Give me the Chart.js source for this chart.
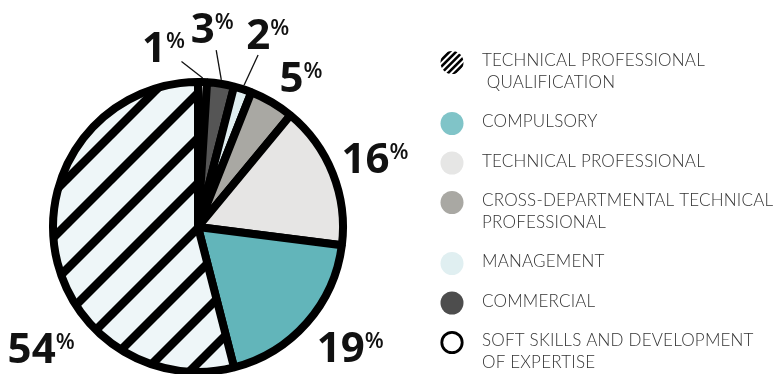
<!DOCTYPE html>
<html>
<head>
<meta charset="utf-8">
<script src="https://cdn.jsdelivr.net/npm/chart.js@4.4.1/dist/chart.umd.min.js"></script>
<style>
  html, body { margin: 0; padding: 0; background: #ffffff; overflow: hidden; }
  #wrap { width: 774px; height: 374px; overflow: hidden; position: relative; }
  canvas { display: block; }
</style>
</head>
<body>
<div id="wrap"><canvas id="chart" width="774" height="376"></canvas></div>
<script>
// Training hours by course type (legend order)
const categories = [
  ['TECHNICAL PROFESSIONAL', ' QUALIFICATION'],
  ['COMPULSORY'],
  ['TECHNICAL PROFESSIONAL'],
  ['CROSS-DEPARTMENTAL TECHNICAL', 'PROFESSIONAL'],
  ['MANAGEMENT'],
  ['COMMERCIAL'],
  ['SOFT SKILLS AND DEVELOPMENT', 'OF EXPERTISE']
];
const shares = [54, 19, 16, 5, 2, 3, 1];

// Slice colours (legend order); the first slice gets a hatch pattern
const sliceColors = ['hatch', '#62b5ba', '#e6e5e4', '#a9a8a3', '#e0eef0', '#555555', '#ffffff'];
const legendColors = ['hatch', '#80c4c8', '#e6e6e5', '#a9a8a3', '#e0eff1', '#4d4d4d', '#ffffff'];

// Percentage label placement: [angle clockwise from 12 o'clock (deg), distance from centre (px)]
const labelPlacement = [[232.4, 198], [128.3, 194], [68.7, 190], [34.5, 182], [19.9, 205], [4.1, 200], [-10.9, 183]];
const withLeader = [false, false, false, false, true, true, true];

function makeHatch() {
  const s = 45;
  const tile = document.createElement('canvas');
  tile.width = s; tile.height = s;
  const c = tile.getContext('2d');
  c.fillStyle = '#eef6f8';
  c.fillRect(0, 0, s, s);
  c.strokeStyle = '#000';
  c.lineWidth = 8.5;
  c.beginPath();
  for (let k = -1; k <= 1; k++) {
    c.moveTo(k * s - 5, s + 5);
    c.lineTo(k * s + s + 5, -5);
  }
  c.stroke();
  const p = document.getElementById('chart').getContext('2d').createPattern(tile, 'repeat');
  p.setTransform(new DOMMatrix().translate(21, 0));
  return p;
}
const hatch = makeHatch();

// The pie runs clockwise from the top in the reverse of legend order
const n = shares.length;
const pieIdx = [...Array(n).keys()].reverse();
const pieValues = pieIdx.map(i => shares[i]);
const pieColors = pieIdx.map(i => sliceColors[i] === 'hatch' ? hatch : sliceColors[i]);

const deg = Math.PI / 180;

const pieLabels = {
  id: 'pieLabels',
  afterDatasetsDraw(chart) {
    const ctx = chart.ctx;
    const arcs = chart.getDatasetMeta(0).data;
    arcs.forEach((arc, j) => {
      const i = pieIdx[j];
      const [a, d] = labelPlacement[i];
      const ang = a * deg - Math.PI / 2;
      const cx = arc.x + d * Math.cos(ang);
      const cy = arc.y + d * Math.sin(ang);
      const num = String(chart.data.datasets[0].data[j]);
      ctx.save();
      ctx.fillStyle = '#111111';
      ctx.font = 'bold 42px "Open Sans"';
      const wNum = ctx.measureText(num).width;
      ctx.font = '600 22px "Open Sans"';
      const wPct = ctx.measureText('%').width;
      const left = cx - (wNum + wPct) / 2;
      const base = cy + 15;
      ctx.textBaseline = 'alphabetic';
      ctx.font = 'bold 42px "Open Sans"';
      ctx.fillText(num, left, base);
      ctx.font = '600 22px "Open Sans"';
      ctx.fillText('%', left + wNum, base - 14);
      if (withLeader[i]) {
        const mid = (arc.startAngle + arc.endAngle) / 2;
        const rx = arc.x + (arc.outerRadius + 4) * Math.cos(mid);
        const ry = arc.y + (arc.outerRadius + 4) * Math.sin(mid);
        const dx = rx - cx, dy = ry - cy;
        const len = Math.hypot(dx, dy);
        ctx.strokeStyle = '#111111';
        ctx.lineWidth = 1.3;
        ctx.beginPath();
        ctx.moveTo(cx + dx / len * 23, cy + dy / len * 23);
        ctx.lineTo(rx, ry);
        ctx.stroke();
      }
      ctx.restore();
    });
  }
};

const sideLegend = {
  id: 'sideLegend',
  afterDraw(chart) {
    const ctx = chart.ctx;
    const mx = 452, tx = 482;
    const lineH = 21.5, gap = 39.5;
    let y = 61;
    ctx.save();
    categories.forEach((lines, i) => {
      const my = y + 1.5;
      const col = legendColors[i];
      if (col === 'hatch') {
        ctx.save();
        ctx.beginPath();
        ctx.arc(mx, my, 11.5, 0, Math.PI * 2);
        ctx.clip();
        ctx.strokeStyle = '#000';
        ctx.lineWidth = 2.6;
        ctx.beginPath();
        for (let k = -4; k <= 4; k++) {
          const o = k * 6.6;
          ctx.moveTo(mx - 14 + o, my + 14);
          ctx.lineTo(mx + 14 + o, my - 14);
        }
        ctx.stroke();
        ctx.restore();
      } else if (col === '#ffffff') {
        ctx.beginPath();
        ctx.arc(mx, my, 10.2, 0, Math.PI * 2);
        ctx.fillStyle = '#fff';
        ctx.fill();
        ctx.lineWidth = 2.8;
        ctx.strokeStyle = '#000';
        ctx.stroke();
      } else {
        ctx.beginPath();
        ctx.arc(mx, my, 11.5, 0, Math.PI * 2);
        ctx.fillStyle = col;
        ctx.fill();
      }
      ctx.fillStyle = '#333333';
      ctx.font = '300 17px Lato';
      ctx.letterSpacing = '0.2px';
      ctx.textBaseline = 'middle';
      lines.forEach((t, k) => ctx.fillText(t, tx, y + k * lineH));
      y += (lines.length - 1) * lineH + gap;
    });
    ctx.restore();
  }
};

new Chart(document.getElementById('chart'), {
  type: 'pie',
  data: {
    labels: pieIdx.map(i => categories[i].join(' ').trim()),
    datasets: [{
      data: pieValues,
      backgroundColor: pieColors,
      borderColor: '#000000',
      borderWidth: 8,
      hoverBorderWidth: 8,
      borderJoinStyle: 'bevel'
    }]
  },
  options: {
    responsive: false,
    animation: false,
    devicePixelRatio: 1,
    layout: { padding: { left: 49, top: 78, right: 427, bottom: 0 } },
    plugins: { legend: { display: false }, tooltip: { enabled: false } }
  },
  plugins: [pieLabels, sideLegend]
});
</script>
</body>
</html>
